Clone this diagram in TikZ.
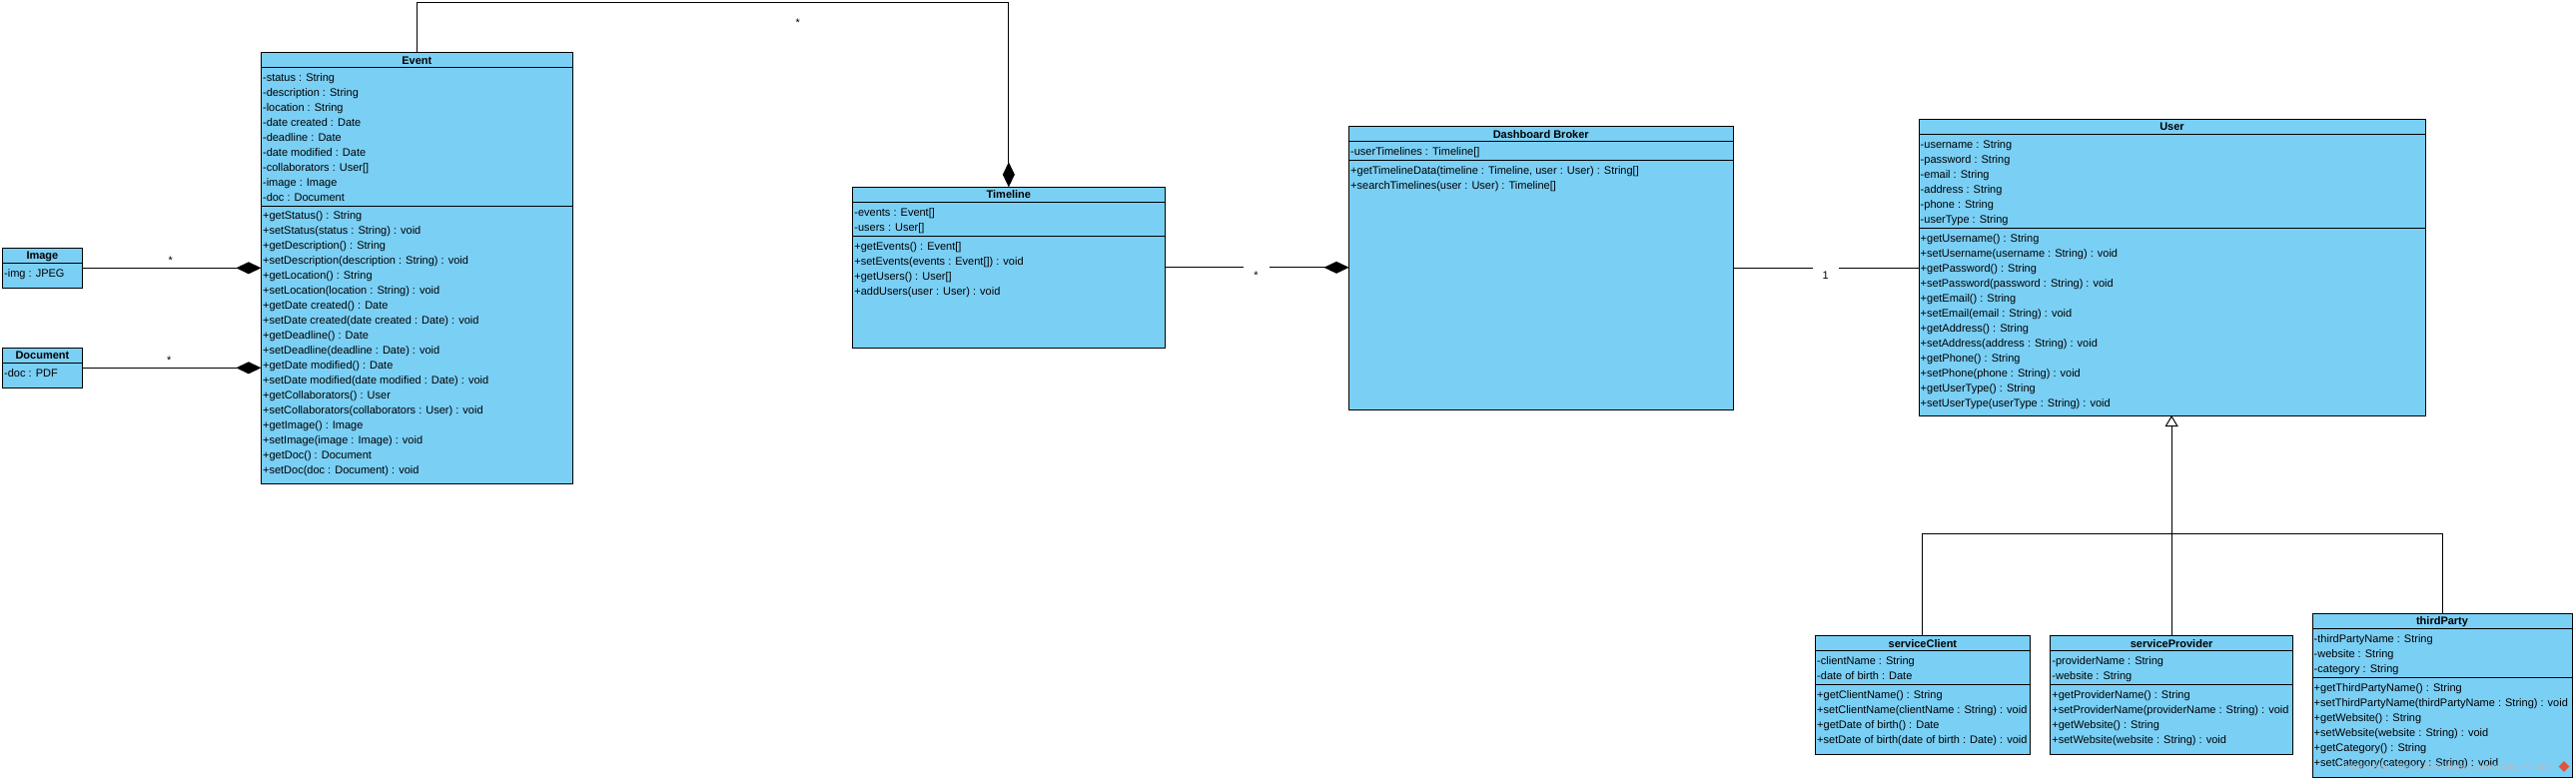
\documentclass[tikz,border=0pt]{standalone}
\usepackage{fontspec}
\setmainfont{Liberation Sans}
\usetikzlibrary{arrows.meta,shapes.geometric}
\definecolor{clsfill}{RGB}{122,207,245}
\definecolor{wmgray}{RGB}{185,190,195}
\definecolor{vpred}{RGB}{226,84,60}
\tikzset{
  cls/.style={draw=black, fill=clsfill, line width=1pt, inner sep=0pt, outer sep=0pt},
  sepl/.style={line width=1pt},
  txt/.style={anchor=base west, inner sep=0pt, font=\fontsize{11}{13}\selectfont},
  ttl/.style={anchor=base, inner sep=0pt, font=\fontsize{11}{13}\selectfont\bfseries},
  conn/.style={line width=1pt},
  comp/.style={conn, -{Diamond[length=25pt,width=12pt]}},
  gen/.style={conn, -{Triangle[open, length=11pt, width=13pt, fill=white]}},
  mult/.style={anchor=base, inner sep=0pt, font=\fontsize{11}{13}\selectfont},
  multbg/.style={mult, fill=white, text height=14pt, text depth=2pt, minimum width=26pt},
  wm/.style={anchor=base east, inner sep=0pt, text=wmgray, font=\fontsize{10}{12}\selectfont},
  logo/.style={diamond, fill=vpred, minimum size=11pt, inner sep=0pt}
}
% name, x1, y1, x2, y2, separator y, title, attributes, operations
\newcommand\classbox[9]{%
  \node[cls, anchor=north west, minimum width={#4-#2}, minimum height={#5-#3}] (#1) at (#2,#3) {};
  \draw[sepl] (#2,{#3+15}) -- (#4,{#3+15});
  \draw[sepl] (#2,#6) -- (#4,#6);
  \node[ttl] (#1-t) at ({(#2+#4)/2},{#3+11.3}) {#7};
  \foreach \t [count=\i from 0] in {#8} \node[txt] (#1-a\i) at ({#2+1.5},{#3+28.8+15*\i}) {\t};
  \foreach \t [count=\i from 0] in {#9} \node[txt] (#1-o\i) at ({#2+1.5},{#6+13.8+15*\i}) {\t};
}
% name, x1, y1, x2, y2, title, attribute
\newcommand\smallclass[7]{%
  \node[cls, anchor=north west, minimum width={#4-#2}, minimum height={#5-#3}] (#1) at (#2,#3) {};
  \draw[sepl] (#2,{#3+15}) -- (#4,{#3+15});
  \node[ttl] (#1-t) at ({(#2+#4)/2},{#3+11.3}) {#6};
  \node[txt] (#1-a0) at ({#2+1.5},{#3+28.8}) {#7};
}
\begin{document}
\begin{tikzpicture}[x=1pt,y=-1pt]
\fill[white] (0,0) rectangle (2579,782);
\useasboundingbox (0,0) rectangle (2579,782);

\smallclass{img}{2.5}{248.3}{82.3}{288.3}{Image}{-img : JPEG}
\smallclass{doc}{2.5}{348.3}{82.3}{388.3}{Document}{-doc : PDF}

\classbox{event}{261.4}{52.7}{573.3}{484}{206}{Event}{%
-status : String,%
-description : String,%
-location : String,%
-date created : Date,%
-deadline : Date,%
-date modified : Date,%
-collaborators : User[],%
-image : Image,%
-doc : Document}{%
+getStatus() : String,%
+setStatus(status : String) : void,%
+getDescription() : String,%
+setDescription(description : String) : void,%
+getLocation() : String,%
+setLocation(location : String) : void,%
+getDate created() : Date,%
+setDate created(date created : Date) : void,%
+getDeadline() : Date,%
+setDeadline(deadline : Date) : void,%
+getDate modified() : Date,%
+setDate modified(date modified : Date) : void,%
+getCollaborators() : User,%
+setCollaborators(collaborators : User) : void,%
+getImage() : Image,%
+setImage(image : Image) : void,%
+getDoc() : Document,%
+setDoc(doc : Document) : void}

\classbox{timeline}{853.7}{187.3}{1166}{348.3}{236.7}{Timeline}{%
-events : Event[],%
-users : User[]}{%
+getEvents() : Event[],%
+setEvents(events : Event[]) : void,%
+getUsers() : User[],%
+addUsers(user : User) : void}

\classbox{dash}{1350.5}{126.7}{1735}{410}{160.7}{Dashboard Broker}{%
-userTimelines : Timeline[]}{%
{+getTimelineData(timeline : Timeline, user : User) : String[]},%
+searchTimelines(user : User) : Timeline[]}

\classbox{user}{1921}{119.3}{2428}{416}{228.3}{User}{%
-username : String,%
-password : String,%
-email : String,%
-address : String,%
-phone : String,%
-userType : String}{%
+getUsername() : String,%
+setUsername(username : String) : void,%
+getPassword() : String,%
+setPassword(password : String) : void,%
+getEmail() : String,%
+setEmail(email : String) : void,%
+getAddress() : String,%
+setAddress(address : String) : void,%
+getPhone() : String,%
+setPhone(phone : String) : void,%
+getUserType() : String,%
+setUserType(userType : String) : void}

\classbox{sc}{1817.5}{636.7}{2032.3}{755}{685.3}{serviceClient}{%
-clientName : String,%
-date of birth : Date}{%
+getClientName() : String,%
+setClientName(clientName : String) : void,%
+getDate of birth() : Date,%
+setDate of birth(date of birth : Date) : void}

\classbox{sp}{2052.7}{636.7}{2295.5}{755}{685.3}{serviceProvider}{%
-providerName : String,%
-website : String}{%
+getProviderName() : String,%
+setProviderName(providerName : String) : void,%
+getWebsite() : String,%
+setWebsite(website : String) : void}

\classbox{tp}{2315}{614.3}{2575}{778.3}{678.3}{thirdParty}{%
-thirdPartyName : String,%
-website : String,%
-category : String}{%
+getThirdPartyName() : String,%
+setThirdPartyName(thirdPartyName : String) : void,%
+getWebsite() : String,%
+setWebsite(website : String) : void,%
+getCategory() : String,%
+setCategory(category : String) : void}

% compositions
\draw[comp] (img.east) -- (img.east -| event.west);
\draw[comp] (doc.east) -- (doc.east -| event.west);
\coordinate (topl) at (0,2.5);
\draw[comp] (event.north) -- (event.north |- topl) -- (timeline.north |- topl) -- (timeline.north);
\draw[comp] (timeline.east) -- (timeline.east -| dash.west);
\draw[conn] (dash.east) -- (dash.east -| user.west);

% generalization
\coordinate (bus) at (0,534.3);
\draw[conn] (sc.north) -- (sc.north |- bus) -- (tp.north |- bus) -- (tp.north);
\draw[gen] (sp.north) -- (sp.north |- user.south);

% multiplicities
\node[mult] (m1) at (170.7,264.3) {*};
\node[mult] (m2) at (169.3,364) {*};
\node[mult] (m3) at (798.8,26) {*};
\node[multbg] (m4) at (1257.5,279.3) {*};
\node[multbg] (m5) at (1827.7,279) {1};

% watermark
\node[wm] (wmtext) at (2556,771) {Powered by Visual Paradigm Community Edition};
\node[logo] (wmlogo) at (2567,767.5) {};
\end{tikzpicture}
\end{document}
